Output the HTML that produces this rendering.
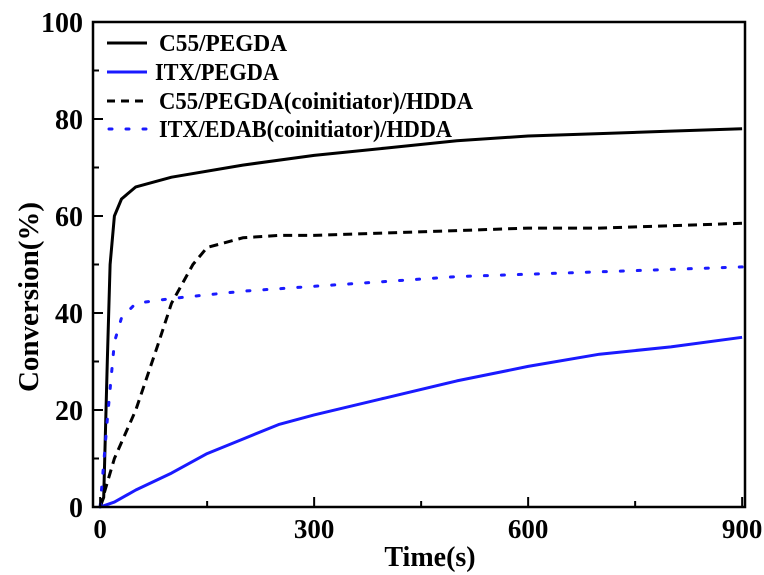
<!DOCTYPE html>
<html><head><meta charset="utf-8"><style>
html,body{margin:0;padding:0;background:#fff;}
svg{display:block;font-family:"Liberation Serif",serif;font-weight:bold;}
</style></head><body>
<svg id="chart" width="764" height="575" viewBox="0 0 764 575" xmlns="http://www.w3.org/2000/svg"></svg>
<script>
const xTicks=[0,300,600,900];
const xMinor=[150,450,750];
const yTicks=[0,20,40,60,80,100];
const yMinor=[10,30,50,70,90];
const tC55=[0,5,10,14,20,30,50,100,200,300,400,500,600,700,800,900];
const vC55=[0,2,30,50,60,63.5,66,68,70.5,72.5,74,75.5,76.5,77,77.5,78];
const tITX=[0,20,50,100,150,200,250,300,400,500,600,700,800,900];
const vITX=[0,1,3.5,7,11,14,17,19,22.5,26,29,31.5,33,35];
const tC55H=[0,20,50,80,100,130,150,200,250,300,400,500,600,700,800,900];
const vC55H=[0,10,20,33,42,50,53.5,55.5,56,56,56.5,57,57.5,57.5,58,58.5];
const tITXE=[0,10,20,30,50,100,200,300,400,500,600,700,800,900];
const vITXE=[0,18,34,39,42,43,44.5,45.5,46.5,47.5,48,48.5,49,49.5];
const X0=93,X1=745,Y0=507,Y1=22,xmin=-10,xmax=904,ymin=0,ymax=100;
const sx=t=>X0+(t-xmin)/(xmax-xmin)*(X1-X0);
const sy=v=>Y0-(v-ymin)/(ymax-ymin)*(Y0-Y1);
const svg=document.getElementById('chart');
const NS='http://www.w3.org/2000/svg';
function mk(tag,attrs,parent){const e=document.createElementNS(NS,tag);for(const k in attrs)e.setAttribute(k,attrs[k]);(parent||svg).appendChild(e);return e;}
const series=[
 {t:tC55,v:vC55,c:'#000',d:'',name:'c55-pegda-line'},
 {t:tITX,v:vITX,c:'#1a1aff',d:'',name:'itx-pegda-line'},
 {t:tC55H,v:vC55H,c:'#000',d:'9,6',name:'c55-hdda-line'},
 {t:tITXE,v:vITXE,c:'#1a1aff',d:'3,14',name:'itx-edab-hdda-line'}
];
series.forEach(s=>{
 const pts=s.t.map((t,i)=>sx(t).toFixed(1)+','+sy(s.v[i]).toFixed(1)).join(' ');
 const p=mk('polyline',{points:pts,fill:'none',stroke:s.c,'stroke-width':3,'stroke-linecap':s.d==='3,14'?'round':'butt','stroke-linejoin':'round'});
 if(s.d)p.setAttribute('stroke-dasharray',s.d);
 
 
});
const fr=mk('rect',{x:X0,y:Y1,width:X1-X0,height:Y0-Y1,fill:'none',stroke:'#000','stroke-width':2.5});


xTicks.forEach(t=>{
 mk('line',{x1:sx(t),x2:sx(t),y1:Y0,y2:Y0-10,stroke:'#000','stroke-width':2});
 const tx=mk('text',{x:sx(t),y:538,'text-anchor':'middle','font-size':27});
 tx.textContent=t;
 
 
});
xMinor.forEach(t=>mk('line',{x1:sx(t),x2:sx(t),y1:Y0,y2:Y0-6,stroke:'#000','stroke-width':2}));
yTicks.forEach(v=>{
 mk('line',{x1:X0,x2:X0+10,y1:sy(v),y2:sy(v),stroke:'#000','stroke-width':2});
 const tx=mk('text',{x:X0-10,y:sy(v)+10,'text-anchor':'end','font-size':28});
 tx.textContent=v;
 
 
});
yMinor.forEach(v=>mk('line',{x1:X0,x2:X0+6,y1:sy(v),y2:sy(v),stroke:'#000','stroke-width':2}));
const xt=mk('text',{x:430,y:566,'text-anchor':'middle','font-size':28});
xt.textContent='Time(s)';


const yt=mk('text',{x:0,y:0,'text-anchor':'middle','font-size':29,transform:'translate(38,297) rotate(-90)'});
yt.textContent='Conversion(%)';


const legLabels=['C55/PEGDA','ITX/PEGDA','C55/PEGDA(coinitiator)/HDDA','ITX/EDAB(coinitiator)/HDDA'];
const legY=[43,72,101,129];
const legW=[128,124,314,293];
const g=mk('g',{});


legLabels.forEach((l,i)=>{
 const s=series[i];
 const ln=mk('line',{x1:107,x2:147,y1:legY[i],y2:legY[i],stroke:s.c,'stroke-width':3},g);
 if(s.d)ln.setAttribute('stroke-dasharray',i===3?'3,14':'8,6');
 if(i===3){ln.setAttribute('stroke-linecap','round');ln.setAttribute('x1',109);}
 const tx=mk('text',{x:i===1?155:159,y:legY[i]+8,'font-size':24,textLength:legW[i],lengthAdjust:'spacingAndGlyphs'},g);
 tx.textContent=l;
 
 
});
</script>
</body></html>
